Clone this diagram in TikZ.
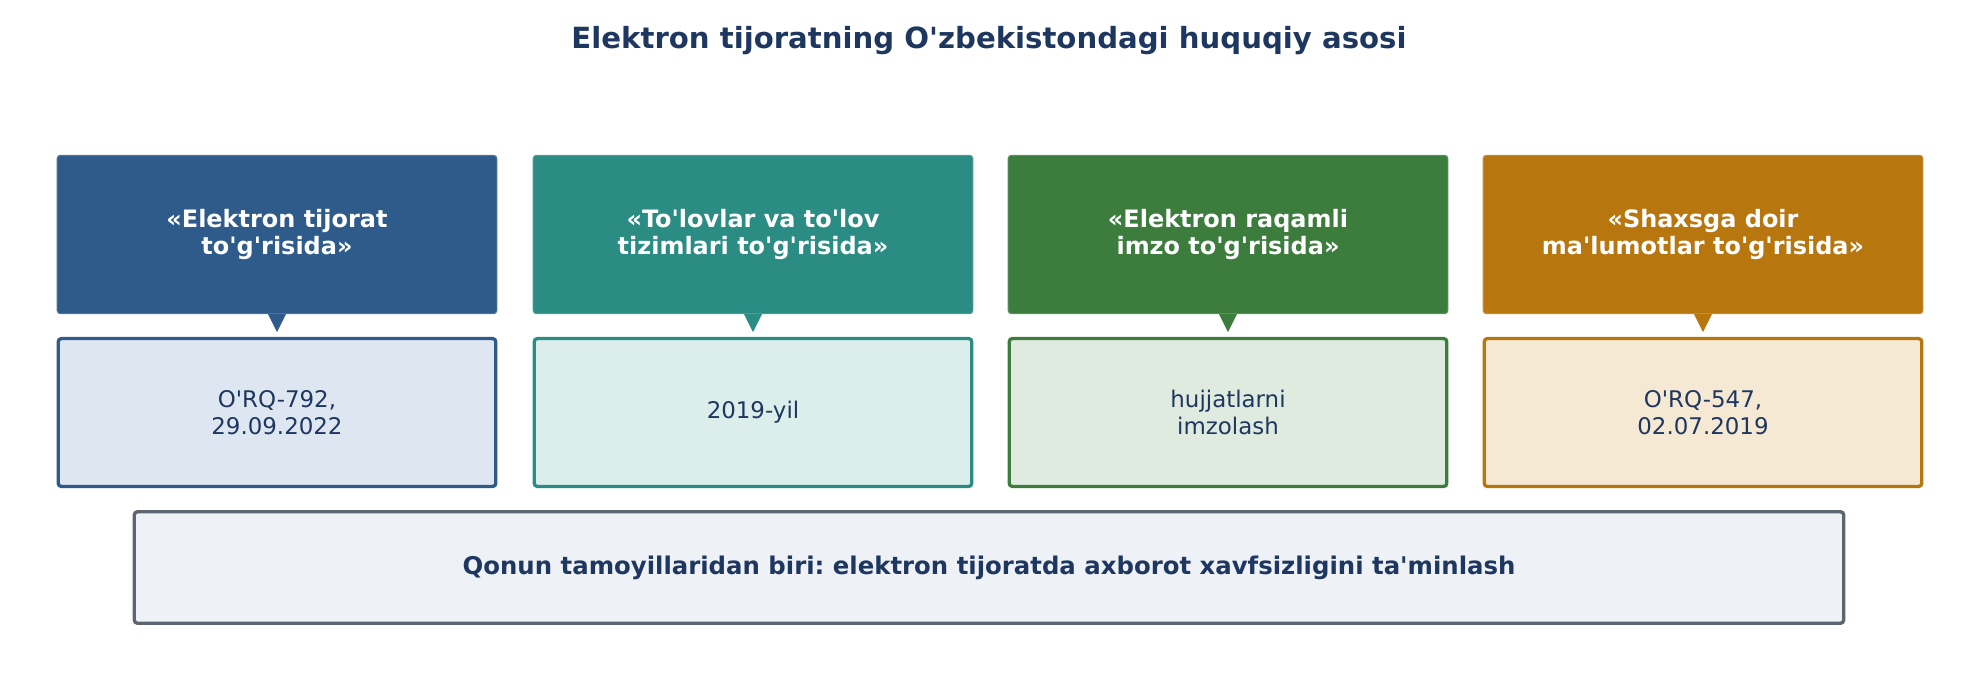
\documentclass[tikz,border=0pt]{standalone}
\usepackage{fontspec}
\setmainfont{DejaVu Sans}[Ligatures=TeXOff]
\usetikzlibrary{calc}
\frenchspacing
\definecolor{txt}{HTML}{1E3760}
\definecolor{hA}{HTML}{2E5B8A}\definecolor{fA}{HTML}{DEE7F1}
\definecolor{hB}{HTML}{2A8C82}\definecolor{fB}{HTML}{DBEEEC}
\definecolor{hC}{HTML}{3C7D3E}\definecolor{fC}{HTML}{E0EBDF}
\definecolor{hD}{HTML}{B8760F}\definecolor{fD}{HTML}{F6E9D4}
\definecolor{gB}{HTML}{5D6570}\definecolor{gF}{HTML}{EEF1F6}
\tikzset{
  hdr/.style={rounded corners=1.5pt, minimum width=211pt, minimum height=76pt, inner sep=0pt,
    text=white, font=\fontsize{11.5}{13.3}\selectfont\bfseries, align=center},
  body/.style={rounded corners=1.5pt, line width=1.6pt, minimum width=210pt, minimum height=71pt,
    inner sep=0pt, text=txt, font=\fontsize{11}{13.2}\selectfont, align=center},
  note/.style={rounded corners=1.5pt, line width=1.6pt, draw=gB, fill=gF, minimum width=820.5pt,
    minimum height=53.5pt, inner sep=0pt, text=txt, font=\fontsize{11.7}{14}\selectfont\bfseries},
  ttl/.style={text=txt, font=\fontsize{14}{16.8}\selectfont\bfseries, inner sep=0pt}
}
\begin{document}
\begin{tikzpicture}[x=0.48pt,y=-0.48pt]
\useasboundingbox (0,0) rectangle (1979,679);
\node[ttl] (title) at (989,40.5) {Elektron tijoratning O'zbekistondagi huquqiy asosi};
\foreach \i/\cx/\hcol/\fcol/\htxt/\btxt in {
  1/277/hA/fA/{«Elektron tijorat\\to'g'risida»}/{O'RQ-792,\\29.09.2022},
  2/753/hB/fB/{«To'lovlar va to'lov\\tizimlari to'g'risida»}/{2019-yil},
  3/1228/hC/fC/{«Elektron raqamli\\imzo to'g'risida»}/{hujjatlarni\\imzolash},
  4/1703/hD/fD/{«Shaxsga doir\\ma'lumotlar to'g'risida»}/{O'RQ-547,\\02.07.2019}}{
  \node[hdr, fill=\hcol, draw=\hcol!85!white, line width=0.5pt] (h\i) at (\cx,234.5) {\htxt};
  \node[body, draw=\hcol, fill=\fcol] (b\i) at (\cx,412.5) {\btxt};
  \fill[\hcol] ($(h\i.south)+(-9,0)$) -- ($(h\i.south)+(9,0)$) -- ($(h\i.south)+(0,18)$) -- cycle;
}
\node[note] (n) at (989,567.5) {Qonun tamoyillaridan biri: elektron tijoratda axborot xavfsizligini ta'minlash};
\end{tikzpicture}
\end{document}
